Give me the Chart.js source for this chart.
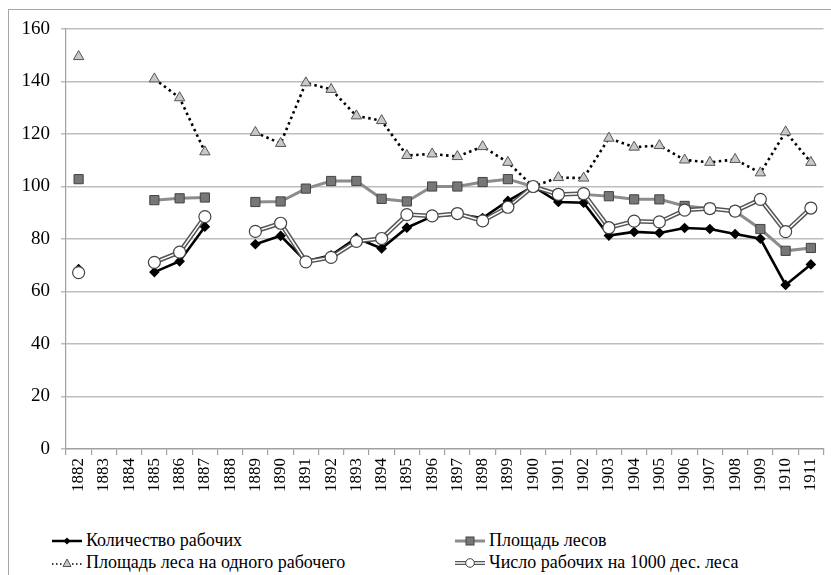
<!DOCTYPE html>
<html>
<head>
    <meta charset="UTF-8">
    <title>Рабочие и площадь лесов, 1882–1911</title>
    <script src="https://cdn.jsdelivr.net/npm/chart.js@4.4.1/dist/chart.umd.min.js"></script>
    <style>
        html, body {
            margin: 0;
            padding: 0;
            width: 831px;
            height: 575px;
            overflow: hidden;
            background: #fff;
            font-family: "Liberation Serif", serif;
        }
        /* outer box of the figure, cut off at right and bottom edges */
        .frame {
            position: absolute;
            left: 8px;
            top: 9px;
            width: 822px;
            height: 566px;
            border-top: 1px solid #a6a6a6;
            border-left: 1px solid #a6a6a6;
        }
        .chart-box {
            position: absolute;
            left: 0;
            top: 0;
            width: 831px;
            height: 520px;
        }
        .legend-item {
            position: absolute;
            display: flex;
            align-items: center;
            font-family: "Liberation Serif", serif;
            font-size: 18px;
            color: #000;
            white-space: nowrap;
        }
        .legend-item svg {
            margin-right: 4px;
        }
    </style>
</head>
<body>
    <div class="frame"></div>
    <div class="chart-box">
        <canvas id="forestChart"></canvas>
    </div>

    <div class="legend-item" style="left:52px; top:530px;">
        <svg width="30" height="12"><line x1="0" y1="6" x2="30" y2="6" stroke="#000" stroke-width="2.5"/><path d="M15 2.5 L18.5 6 L15 9.5 L11.5 6 Z" fill="#000"/></svg>
        <span>Количество рабочих</span>
    </div>
    <div class="legend-item" style="left:455px; top:530px;">
        <svg width="30" height="12"><line x1="0" y1="6" x2="30" y2="6" stroke="#8c8c8c" stroke-width="3"/><rect x="11" y="2" width="8" height="8" fill="#777" stroke="#444" stroke-width="1"/></svg>
        <span>Площадь лесов</span>
    </div>
    <div class="legend-item" style="left:52px; top:552px;">
        <svg width="30" height="12"><line x1="0" y1="7" x2="30" y2="7" stroke="#000" stroke-width="1.6" stroke-dasharray="1.5,2.5"/><path d="M15 2 L19 9.5 L11 9.5 Z" fill="#c8c8c8" stroke="#555" stroke-width="1"/></svg>
        <span>Площадь леса на одного рабочего</span>
    </div>
    <div class="legend-item" style="left:455px; top:552px;">
        <svg width="30" height="12"><line x1="0" y1="6" x2="30" y2="6" stroke="#555" stroke-width="4"/><line x1="0" y1="6" x2="30" y2="6" stroke="#fff" stroke-width="1.5"/><circle cx="15" cy="6" r="4.3" fill="#fff" stroke="#444" stroke-width="1"/></svg>
        <span>Число рабочих на 1000 дес. леса</span>
    </div>

    <script>
        // years on the category axis
        const years = ['1882', '1883', '1884', '1885', '1886', '1887', '1888', '1889', '1890', '1891',
                       '1892', '1893', '1894', '1895', '1896', '1897', '1898', '1899', '1900', '1901',
                       '1902', '1903', '1904', '1905', '1906', '1907', '1908', '1909', '1910', '1911'];

        // index values, 1900 = 100 (null = no data)
        const workers = [68.5, null, null, 67.4, 71.5, 84.7, null, 78, 81.2, 71.5,
                         73.8, 80.4, 76.4, 84.3, 88.6, 89.4, 88, 94.5, 100, 94.1,
                         93.8, 81.3, 82.7, 82.3, 84.2, 83.8, 81.9, 80.1, 62.5, 70.3];
        const forestArea = [102.8, null, null, 94.8, 95.5, 95.8, null, 94.1, 94.3, 99.2,
                            102.1, 102.1, 95.3, 94.3, 100, 100, 101.7, 102.8, 100, 97,
                            97, 96.3, 95.1, 95.1, 92.6, 91.6, 90.6, 83.8, 75.5, 76.6];
        const forestPerWorker = [149.5, null, null, 141, 133.8, 113.2, null, 120.6, 116.4, 139.5,
                                 137, 126.9, 125.1, 111.8, 112.4, 111.4, 115.2, 109.2, 100, 103.4,
                                 103.2, 118.4, 115, 115.6, 110.1, 109.2, 110.3, 105.2, 120.8, 109.2];
        const workersPer1000 = [67.2, null, null, 71.1, 75, 88.5, null, 82.9, 86, 71.3,
                                73, 79.1, 80.2, 89.3, 88.8, 89.7, 86.9, 92.1, 100, 97,
                                97.3, 84.3, 86.8, 86.5, 91, 91.6, 90.6, 95.1, 82.8, 91.8];

        const serifFamily = '"Liberation Serif", serif';

        const ctx = document.getElementById('forestChart').getContext('2d');
        const chart = new Chart(ctx, {
            type: 'line',
            data: {
                labels: years,
                datasets: [
                    {
                        label: 'Число рабочих на 1000 дес. леса',
                        data: workersPer1000,
                        showLine: false,
                        pointStyle: 'circle',
                        pointRadius: 6,
                        pointBackgroundColor: '#fff',
                        pointBorderColor: '#444',
                        pointBorderWidth: 1.2,
                        order: 0
                    },
                    {
                        // white inner stroke of the double line
                        label: 'inner',
                        data: workersPer1000,
                        borderColor: '#fff',
                        borderWidth: 1.5,
                        pointRadius: 0,
                        order: 1
                    },
                    {
                        label: 'outer',
                        data: workersPer1000,
                        borderColor: '#555',
                        borderWidth: 4.5,
                        pointRadius: 0,
                        order: 2
                    },
                    {
                        label: 'Количество рабочих',
                        data: workers,
                        borderColor: '#000',
                        borderWidth: 2.6,
                        pointStyle: 'rectRot',
                        pointRadius: 3.5,
                        pointBackgroundColor: '#000',
                        pointBorderColor: '#000',
                        order: 3
                    },
                    {
                        label: 'Площадь лесов',
                        data: forestArea,
                        borderColor: '#8c8c8c',
                        borderWidth: 3,
                        pointStyle: 'rect',
                        pointRadius: 6.5,
                        pointBackgroundColor: '#777',
                        pointBorderColor: '#444',
                        pointBorderWidth: 1,
                        order: 4
                    },
                    {
                        label: 'Площадь леса на одного рабочего',
                        data: forestPerWorker,
                        borderColor: '#000',
                        borderWidth: 2.6,
                        borderDash: [2.5, 3.5],
                        pointStyle: 'triangle',
                        pointRadius: 6,
                        pointBackgroundColor: '#c8c8c8',
                        pointBorderColor: '#555',
                        pointBorderWidth: 1,
                        order: 5
                    }
                ]
            },
            options: {
                responsive: true,
                maintainAspectRatio: false,
                animation: false,
                spanGaps: false,
                layout: {
                    padding: { top: 29, right: 7, left: 0, bottom: 0 }
                },
                plugins: {
                    legend: { display: false },
                    tooltip: { enabled: false }
                },
                scales: {
                    x: {
                        type: 'category',
                        offset: true,
                        afterFit: function(scale) {
                            scale.height = 71;
                            scale.paddingLeft = 0;
                            scale.paddingRight = 0;
                        },
                        border: { color: '#a0a0a0', width: 1.2 },
                        grid: {
                            offset: true,
                            drawOnChartArea: false,
                            tickLength: 6,
                            color: '#a0a0a0',
                            lineWidth: 1.2
                        },
                        ticks: {
                            autoSkip: false,
                            minRotation: 90,
                            maxRotation: 90,
                            padding: 3,
                            color: '#000',
                            font: { family: serifFamily, size: 17 }
                        }
                    },
                    y: {
                        min: 0,
                        max: 160,
                        afterFit: function(scale) { scale.width = 66; },
                        border: { color: '#a0a0a0', width: 1.2 },
                        grid: {
                            color: '#bdbdbd',
                            lineWidth: 1.5,
                            tickLength: 5
                        },
                        ticks: {
                            stepSize: 20,
                            padding: 11,
                            color: '#000',
                            font: { family: serifFamily, size: 19 }
                        }
                    }
                }
            }
        });
    </script>
</body>
</html>
